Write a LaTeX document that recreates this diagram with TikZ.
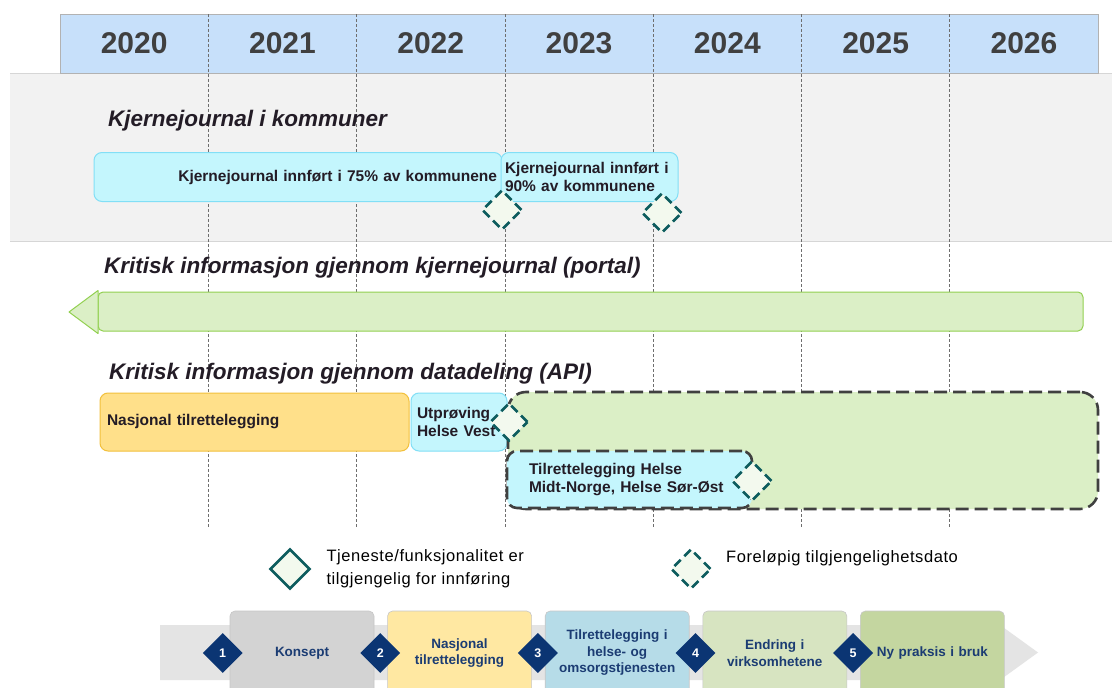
\documentclass[tikz,border=0pt]{standalone}
\usepackage{fontspec}
\setmainfont{Liberation Sans}
\newfontfamily\legendfont{Liberation Sans}[LetterSpace=3.5]
\usetikzlibrary{positioning,shapes.geometric}
\definecolor{hdrblue}{HTML}{C7E0FA}
\definecolor{yeargray}{HTML}{404040}
\definecolor{bandgray}{HTML}{F2F2F2}
\definecolor{bandline}{HTML}{D6D6D6}
\definecolor{divgray}{HTML}{6E6E6E}
\definecolor{inkdark}{HTML}{231C26}
\definecolor{cyanfill}{HTML}{C4F6FD}
\definecolor{cyanline}{HTML}{82DFF6}
\definecolor{greenfill}{HTML}{DBEFC6}
\definecolor{greenline}{HTML}{92D050}
\definecolor{orangefill}{HTML}{FFE08A}
\definecolor{orangeline}{HTML}{F2C03C}
\definecolor{dashgray}{HTML}{404040}
\definecolor{mteal}{HTML}{0D5C5E}
\definecolor{mfill}{HTML}{F3F9EE}
\definecolor{navy}{HTML}{0B3573}
\definecolor{navytext}{HTML}{1B3C73}
\definecolor{phband}{HTML}{E4E4E4}
\definecolor{phgray}{HTML}{D3D3D3}
\definecolor{phyellow}{HTML}{FFE8A2}
\definecolor{phblue}{HTML}{B6DCE8}
\definecolor{phsage}{HTML}{D7E4C1}
\definecolor{phgreen}{HTML}{C4D6A0}
\tikzset{
  yearlbl/.style   = {font=\fontsize{30}{30}\selectfont\bfseries, text=yeargray},
  yeardiv/.style   = {divgray, line width=0.8pt, dash pattern=on 3pt off 2pt},
  rowtitle/.style  = {anchor=base west, inner sep=0pt,
                      font=\fontsize{22.5}{22.5}\selectfont\bfseries\itshape, text=inkdark},
  tlbox/.style     = {rectangle, rounded corners=8pt, line width=1pt, inner sep=0pt,
                      minimum height=49pt, font=\fontsize{15.5}{18.5}\selectfont\bfseries, text=inkdark},
  cyanbox/.style   = {tlbox, draw=cyanline, fill=cyanfill},
  orangebox/.style = {tlbox, draw=orangeline, fill=orangefill},
  dashbox/.style   = {rectangle, draw=dashgray, line width=2.6pt, dash pattern=on 13pt off 6pt, inner sep=0pt},
  msolid/.style    = {diamond, draw=mteal, fill=mfill, line width=2.6pt,
                      minimum width=40pt, minimum height=40pt, inner sep=0pt},
  mdashed/.style   = {msolid, dash pattern=on 9pt off 5pt},
  legendtxt/.style = {inner sep=0pt, align=left, font=\fontsize{16.5}{23}\selectfont\legendfont, text=black},
  phasebox/.style  = {rectangle, rounded corners=5pt, draw=black!22, line width=0.6pt,
                      minimum width=144pt, minimum height=84pt, text width=136pt, align=center, inner sep=0pt,
                      font=\fontsize{13.5}{16.5}\selectfont\bfseries, text=navytext},
  phasenum/.style  = {diamond, fill=navy, minimum width=40pt, minimum height=40pt, inner sep=0pt,
                      font=\fontsize{12.5}{12.5}\selectfont\bfseries, text=white},
}
\begin{document}
\begin{tikzpicture}[x=1pt, y=-1pt]
\useasboundingbox (0,0) rectangle (1112,688);
\clip (0,0) rectangle (1112,688);
\fill[white] (0,0) rectangle (1112,688);

% Grey band behind the first row
\fill[bandgray] (10,73) rectangle (1112,241);
\draw[bandline] (10,73) -- (1112,73);
\draw[bandline] (10,241) -- (1112,241);

% Year header
\node[rectangle, draw=black!30, line width=0.8pt, fill=hdrblue, minimum width=1038pt, minimum height=59pt] (hdr) at (579,43.5) {};
\foreach \yr [count=\i from 0] in {2020,...,2026}
  \node[yearlbl] (y\yr) at ({134.15+148.3*\i},43.5) {\yr};

% Year dividers
\foreach \i in {1,...,6}
  \draw[yeardiv] ({60+148.3*\i},14) -- ({60+148.3*\i},527);

% Row titles
\node[rowtitle] (tkom)    at (108,126) {Kjernejournal i kommuner};
\node[rowtitle] (tportal) at (104,273) {Kritisk informasjon gjennom kjernejournal (portal)};
\node[rowtitle] (tapi)    at (109,379) {Kritisk informasjon gjennom datadeling (API)};

% Row 1: kommuner
\node[cyanbox, minimum width=408pt, text width=398pt, align=right] (kom75) at (298,177) {Kjernejournal innført i 75\% av kommunene};
\node[cyanbox, minimum width=177pt, text width=169pt, align=left] (kom90) at (589.5,177) {Kjernejournal innført i\\90\% av kommunene};
\node[mdashed] (ms75) at (502,210) {};
\node[mdashed] (ms90) at (662,213) {};

% Row 2: portal
\node[rectangle, rounded corners=5pt, draw=greenline, fill=greenfill, line width=1pt,
      minimum width=985pt, minimum height=39pt, inner sep=0pt] (portal) at (590.5,311.5) {};
\filldraw[draw=greenline, fill=greenfill, line width=1pt, line join=round] (98,290.5) -- (69,312) -- (98,333.5) -- cycle;

% Row 3: API
\node[orangebox, minimum width=309pt, minimum height=58pt, text width=295pt, align=left] (natl) at (254.5,422) {Nasjonal tilrettelegging};
\node[cyanbox, minimum width=96pt, minimum height=58pt, text width=84pt, align=left, right=1pt of natl] (helsevest) {Utprøving\\Helse Vest};
\node[dashbox, fill=greenfill, rounded corners=18pt, minimum width=590pt, minimum height=117pt] (apiall) at (803,450.5) {};
\node[dashbox, fill=cyanfill, rounded corners=10pt, minimum width=245pt, minimum height=57pt, text width=201pt, align=left,
      font=\fontsize{15.5}{18}\selectfont\bfseries, text=inkdark] (midtsor) at (629.5,479.5) {Tilrettelegging Helse\\Midt-Norge, Helse Sør-Øst};
\node[mdashed, minimum width=38pt, minimum height=38pt] (mshv) at (509,422) {};
\node[mdashed] (msmso) at (752,481) {};

% Legend
\node[msolid] (legA) at (290,569) {};
\node[legendtxt, right=15pt of legA] (legAtxt) {Tjeneste/funksjonalitet er\\tilgjengelig for innføring};
\node[mdashed] (legB) at (691,569) {};
\node[legendtxt, anchor=base west] (legBtxt) at (726,562) {Foreløpig tilgjengelighetsdato};

% Phase strip
\fill[phband] (160,625) -- (1000,625) -- (1038,652.5) -- (1000,680) -- (160,680) -- cycle;
\node[phasebox, fill=phgray] (ph1) at (302,653) {Konsept};
\node[phasebox, fill=phyellow, right=13pt of ph1] (ph2) {Nasjonal\\tilrettelegging};
\node[phasebox, fill=phblue,   right=13pt of ph2] (ph3) {Tilrettelegging i\\helse- og\\omsorgstjenesten};
\node[phasebox, fill=phsage,   right=13pt of ph3] (ph4) {Endring i\\virksomhetene};
\node[phasebox, fill=phgreen,  right=13pt of ph4] (ph5) {Ny praksis i bruk};
\foreach \k in {1,...,5}
  \node[phasenum] (n\k) at ([xshift=-7pt]ph\k.west) {\k};
\end{tikzpicture}
\end{document}
